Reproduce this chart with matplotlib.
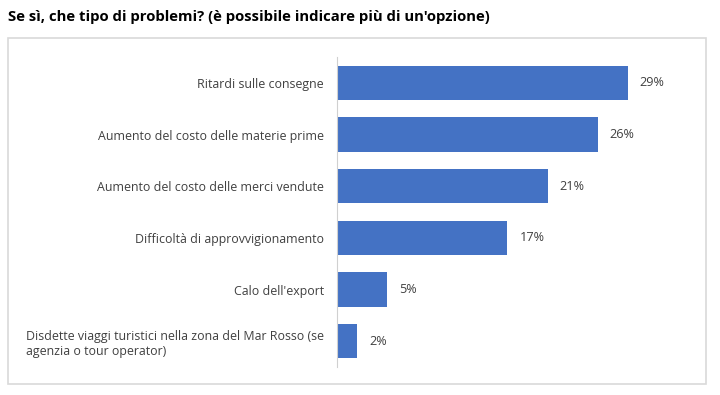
import matplotlib.pyplot as plt
from matplotlib.patches import Rectangle

plt.rcParams['font.family'] = ['Open Sans', 'DejaVu Sans']

categories = [
    'Ritardi sulle consegne',
    'Aumento del costo delle materie prime',
    'Aumento del costo delle merci vendute',
    'Difficoltà di approvvigionamento',
    "Calo dell'export",
    'Disdette viaggi turistici nella zona del Mar Rosso (se\nagenzia o tour operator)',
]
values = [29, 26, 21, 17, 5, 2]
title = "Se sì, che tipo di problemi? (è possibile indicare più di un'opzione)"

fig = plt.figure(figsize=(7.2, 3.95), dpi=100)
W, H = 720, 395

# light frame around the chart area
fig.patches.append(Rectangle((8 / W, 1 - 384 / H), 698 / W, 346 / H,
                             transform=fig.transFigure, fill=False,
                             ec='#d9d9d9', lw=1.2))

fig.text(8 / W, 1 - 17 / H, title, fontsize=10.7, fontweight='bold',
         ha='left', va='center', color='black')

ax = fig.add_axes([337 / W, 1 - 367 / H, 351 / W, 310 / H])
pos = list(range(len(categories)))
ax.barh(pos, values, height=0.66, color='#4472C4')
ax.set_ylim(len(categories) - 0.5, -0.5)
ax.set_xlim(0, 35)

ax.set_yticks(pos)
ax.set_yticklabels(categories, fontsize=8.9, color='#404040')
for lbl in ax.get_yticklabels():
    lbl.set_multialignment('left')
ax.tick_params(axis='y', length=0, pad=9.4)
ax.set_xticks([])

for s in ['top', 'right', 'bottom']:
    ax.spines[s].set_visible(False)
ax.spines['left'].set_color('#d0d0d0')

for i, v in enumerate(values):
    ax.text(v + 1.2, i, str(v) + '%', va='center', ha='left',
            fontsize=9.1, color='#404040')

fig.savefig('out.png', dpi=100)
